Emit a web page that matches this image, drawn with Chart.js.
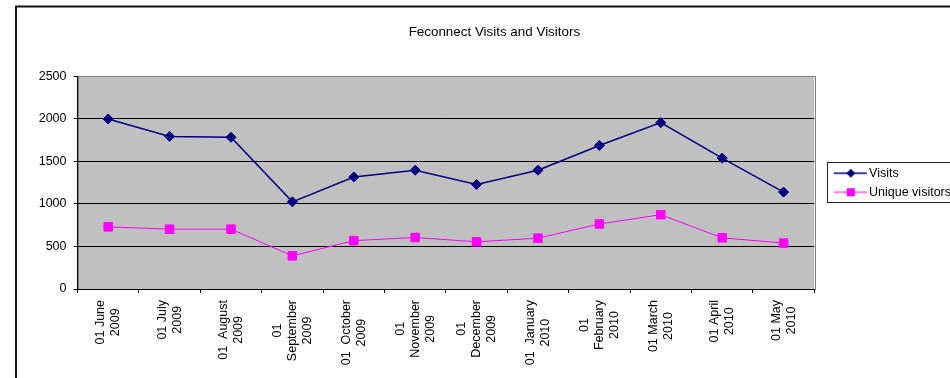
<!DOCTYPE html>
<html>
<head>
<meta charset="utf-8">
<script src="https://cdn.jsdelivr.net/npm/chart.js@4/dist/chart.umd.min.js"></script>
<style>
  html, body { margin: 0; padding: 0; background: #fff; overflow: hidden; }
  #wrap { width: 950px; height: 378px; overflow: hidden; }
</style>
</head>
<body>
<div id="wrap"><canvas id="myChart" width="961" height="378"></canvas></div>
<script>
// eje X (each label is wrapped like the original)
var labels = [
    ['01 June', '2009'], ['01 July', '2009'], ['01  August', '2009'],
    ['01', 'September', '2009'], ['01  October', '2009'], ['01', 'November', '2009'],
    ['01', 'December', '2009'], ['01  January', '2010'], ['01', 'February', '2010'],
    ['01 March', '2010'], ['01 April', '2010'], ['01 May', '2010']
];
// eje Y
var visits = [2000, 1795, 1785, 1025, 1318, 1397, 1229, 1397, 1688, 1957, 1540, 1140];
var uniqueVisitors = [731, 704, 704, 390, 569, 606, 555, 598, 765, 874, 602, 540];
var yTicks = [0, 500, 1000, 1500, 2000, 2500];

var chartTitle = 'Feconnect Visits and Visitors';
var seriesNames = ['Visits', 'Unique visitors'];

var ctx = document.getElementById('myChart').getContext('2d');
Chart.defaults.font.family = "'Liberation Sans', Arial, sans-serif";
Chart.defaults.color = '#000';

// small line+marker picture for the legend
function legendIcon(color, style, r, lw) {
    var c = document.createElement('canvas');
    c.width = 50;
    c.height = 14;
    var g = c.getContext('2d');
    g.strokeStyle = color;
    g.lineWidth = lw;
    g.beginPath();
    g.moveTo(17, 7);
    g.lineTo(50, 7);
    g.stroke();
    g.fillStyle = color;
    g.beginPath();
    if (style === 'rectRot') {
        g.moveTo(34 - r, 7);
        g.lineTo(34, 7 - r);
        g.lineTo(34 + r, 7);
        g.lineTo(34, 7 + r);
    } else {
        g.rect(34 - r, 7 - r, 2 * r, 2 * r);
    }
    g.closePath();
    g.fill();
    return c;
}
var icons = [legendIcon('#000080', 'rectRot', 4.5, 1.5), legendIcon('#FF00FF', 'rect', 4, 1)];

// background, frame and plot area
var fondo = {
    id: 'fondo',
    beforeDraw: function(chart) {
        var c = chart.ctx, a = chart.chartArea;
        c.save();
        c.fillStyle = '#fff';
        c.fillRect(0, 0, chart.width, chart.height);
        c.strokeStyle = '#111';
        c.lineWidth = 2;
        c.beginPath();
        c.moveTo(15, 6.5);
        c.lineTo(chart.width, 6.5);
        c.moveTo(16, 6);
        c.lineTo(16, chart.height);
        c.stroke();
        c.fillStyle = '#C0C0C0';
        c.fillRect(a.left, a.top, a.right - a.left, a.bottom - a.top);
        c.strokeStyle = '#808080';
        c.lineWidth = 1;
        c.strokeRect(Math.round(a.left) + 0.5, Math.round(a.top) + 0.5, Math.round(a.right - a.left), Math.round(a.bottom - a.top));
        c.restore();

        // centre the wrapped x labels on their tick, like Excel does
        var items = chart.scales.x.getLabelItems();
        if (items.fixed) return;
        items.fixed = true;
        items.forEach(function(it) {
            var lines = [].concat(it.label);
            c.save();
            c.font = it.font.string;
            var w = Math.max.apply(null, lines.map(function(l) { return c.measureText(l).width; }));
            c.restore();
            it.options.translation[0] -= (lines.length - 1) * it.font.lineHeight / 2;
            it.options.translation[1] += w / 2;
            it.options.textAlign = 'center';
        });
    },
    afterDraw: function(chart) {
        var lg = chart.legend, c = chart.ctx;
        var mid = Math.round((lg.top + lg.bottom) / 2);
        c.save();
        c.strokeStyle = '#222';
        c.lineWidth = 1;
        c.strokeRect(Math.round(lg.left) + 13.5, mid - 20.5, 200, 40);
        c.restore();
    }
};

var myChart = new Chart(ctx, {
    type: 'line',
    data: {
        labels: labels,
        datasets: [{
            label: seriesNames[0],
            data: visits,
            borderColor: '#000080',
            backgroundColor: '#000080',
            borderWidth: 1.5,
            pointStyle: 'rectRot',
            pointRadius: 5,
            pointBorderWidth: 1,
            tension: 0
        }, {
            label: seriesNames[1],
            data: uniqueVisitors,
            borderColor: '#FF00FF',
            backgroundColor: '#FF00FF',
            borderWidth: 1,
            pointStyle: 'rect',
            pointRadius: 6,
            pointBorderWidth: 1,
            tension: 0
        }]
    },
    options: {
        responsive: false,
        animation: false,
        devicePixelRatio: 1,
        layout: { padding: { left: 27.75, right: 0, top: 0, bottom: 0 } },
        plugins: {
            title: {
                display: true,
                text: chartTitle,
                font: { size: 13.4, weight: 'normal' },
                color: '#000',
                padding: { top: 24.7, bottom: 35.7 }
            },
            legend: {
                position: 'right',
                fullSize: false,
                labels: {
                    font: { size: 12.5 },
                    color: '#000',
                    padding: 6.5,
                    usePointStyle: true,
                    pointStyleWidth: 42,
                    generateLabels: function(chart) {
                        var items = Chart.defaults.plugins.legend.labels.generateLabels(chart);
                        items.forEach(function(it, i) { it.pointStyle = icons[i]; });
                        return items;
                    }
                }
            },
            tooltip: { enabled: false }
        },
        scales: {
            x: {
                offset: true,
                grid: { offset: true, drawOnChartArea: false, color: '#000', tickLength: 4 },
                border: { color: '#000' },
                ticks: { minRotation: 90, maxRotation: 90, autoSkip: false, padding: 7, font: { size: 12.5 } },
                afterFit: function(s) { s.height = 89; }
            },
            y: {
                min: 0,
                max: 2500,
                afterBuildTicks: function(s) { s.ticks = yTicks.map(function(v) { return { value: v }; }); },
                grid: {
                    color: function(c) { return c.tick && c.tick.value === 2500 ? '#808080' : '#000'; },
                    tickColor: '#000',
                    tickLength: 4
                },
                border: { color: '#000' },
                ticks: {
                    padding: 7,
                    font: { size: 12.5 },
                    callback: function(v) { return String(v); }
                },
                afterFit: function(s) { s.width = 49.75; }
            }
        }
    },
    plugins: [fondo]
});
</script>
</body>
</html>
